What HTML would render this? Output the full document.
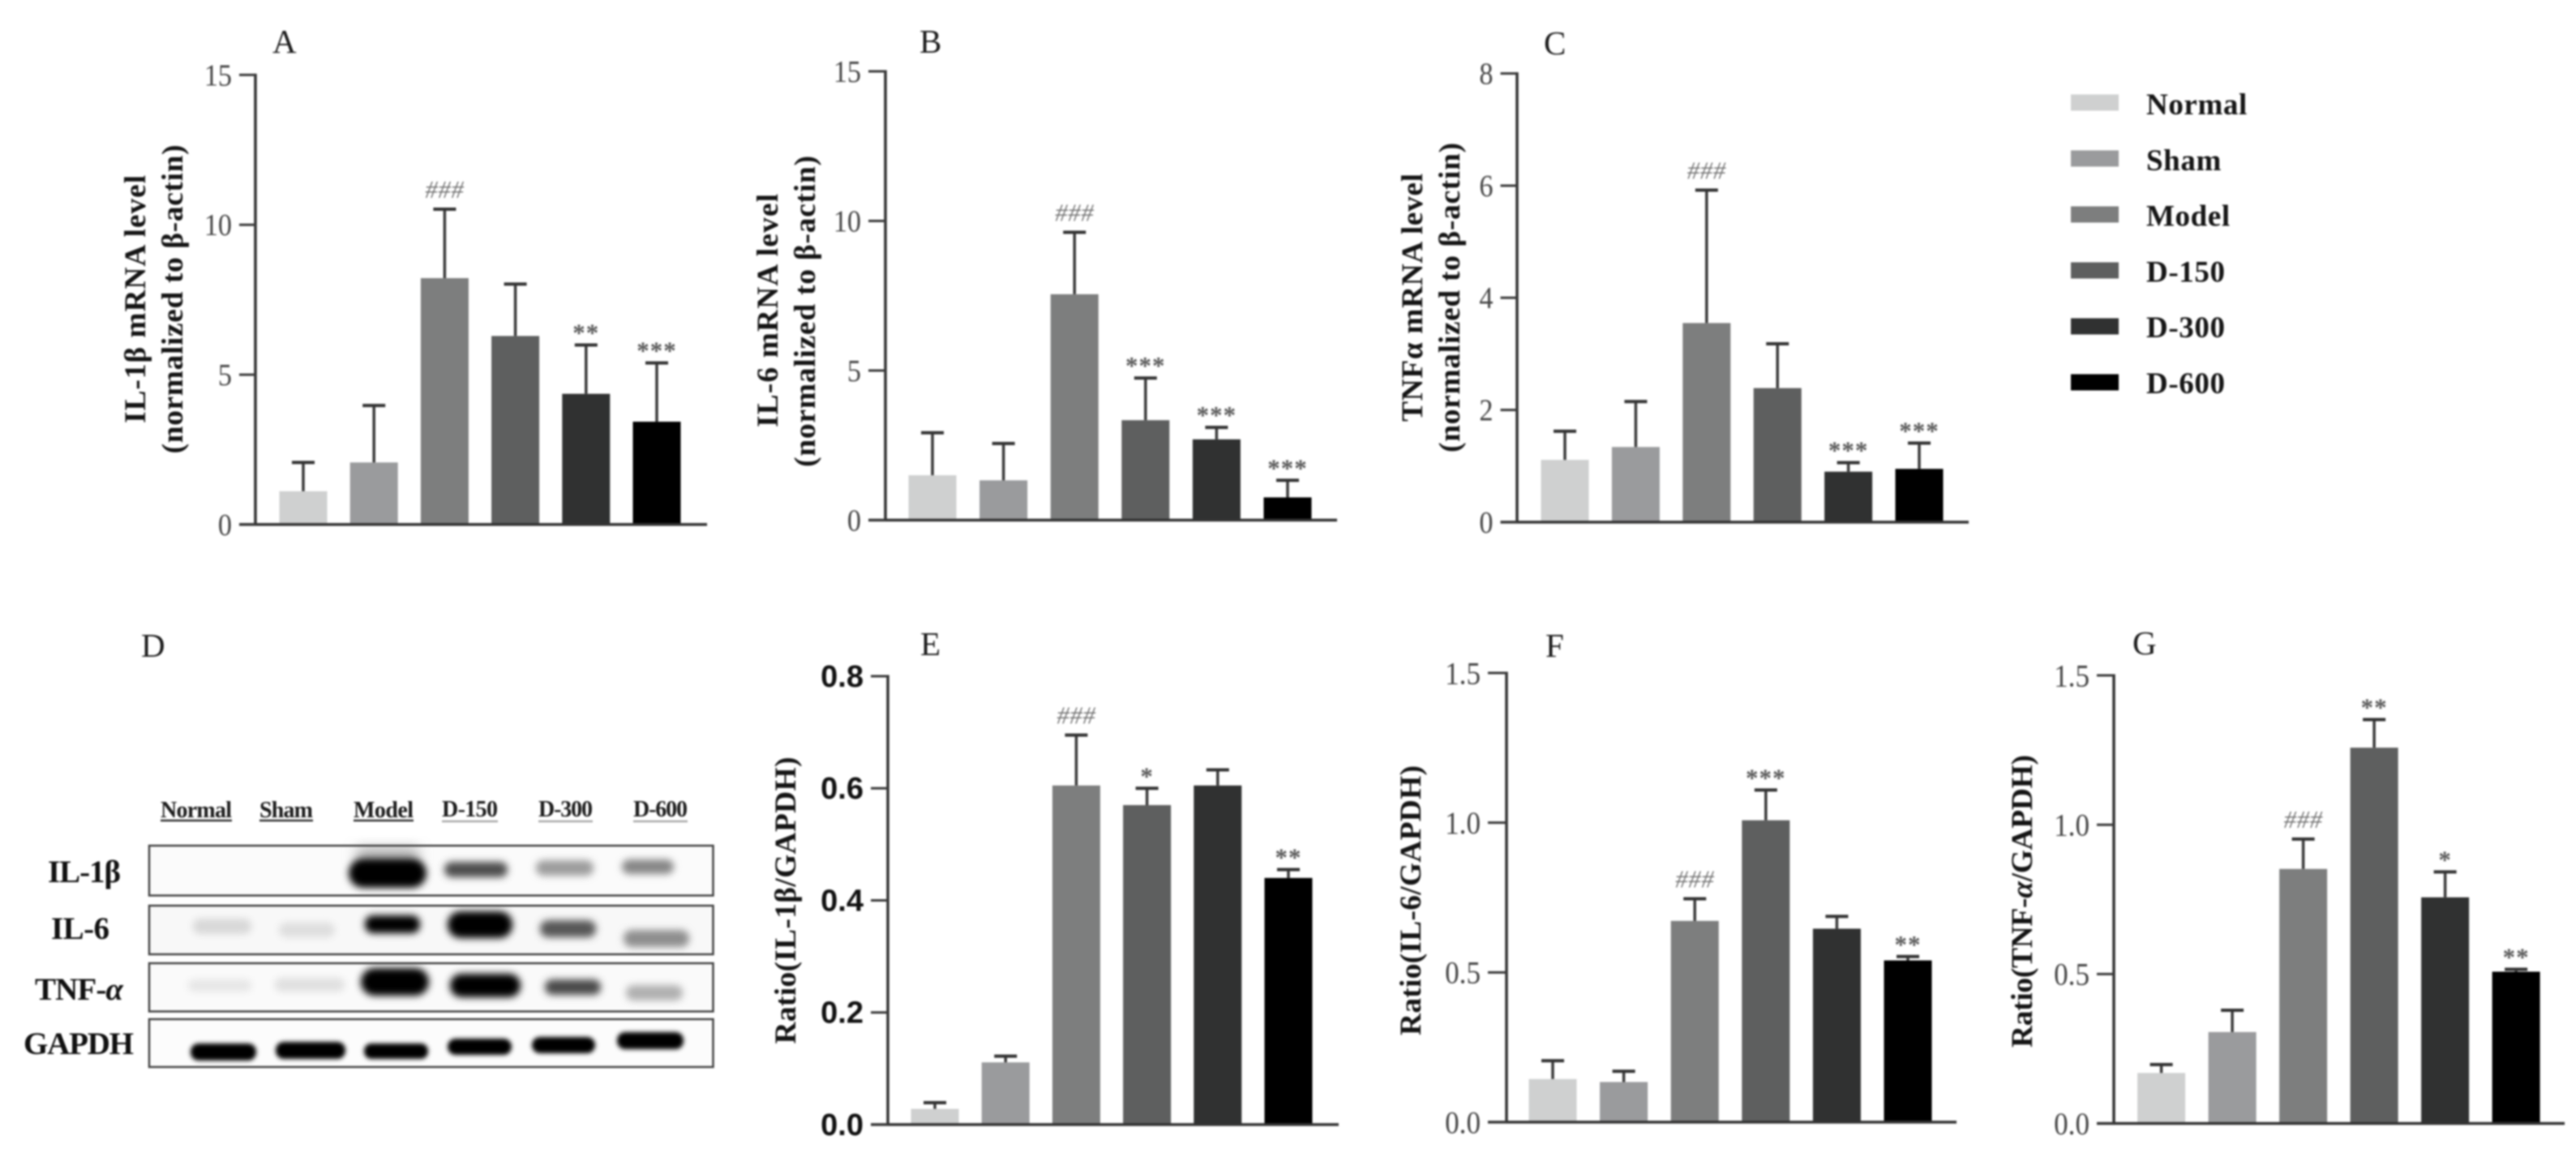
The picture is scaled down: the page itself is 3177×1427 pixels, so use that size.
<!DOCTYPE html>
<html lang="en">
<head>
<meta charset="utf-8">
<title>Cytokine mRNA and protein levels</title>
<style>
  html, body { margin: 0; padding: 0; background: #ffffff; }
  body { width: 3177px; height: 1427px; overflow: hidden; }
  svg { display: block; filter: blur(1.1px); }
  .letter { font-family: "Liberation Serif", serif; font-size: 41px; fill: #1c1c1c; }
  .ytitle { font-family: "Liberation Serif", serif; font-size: 37.5px; font-weight: bold; fill: #151515; text-anchor: middle; }
  .blot-top { font-family: "Liberation Serif", serif; font-size: 28px; font-weight: bold; fill: #1c1c1c; }
  .blot-left { font-family: "Liberation Serif", serif; font-size: 39px; font-weight: bold; fill: #111; }
</style>
</head>
<body>
<svg id="figure" xmlns="http://www.w3.org/2000/svg" width="3177" height="1427" viewBox="0 0 3177 1427">
  <defs>
    <filter id="bandBlur" x="-40%" y="-80%" width="180%" height="260%"><feGaussianBlur stdDeviation="4.5"/></filter>
    <filter id="softBlur" x="-40%" y="-80%" width="180%" height="260%"><feGaussianBlur stdDeviation="8"/></filter>
  </defs>
  <rect x="0" y="0" width="3177" height="1427" fill="#ffffff"/>

  <!-- panel letters -->
  <text class="letter" x="336" y="65">A</text>
  <text class="letter" x="1134" y="65">B</text>
  <text class="letter" x="1904" y="67">C</text>
  <text class="letter" x="174" y="810">D</text>
  <text class="letter" x="1135" y="808">E</text>
  <text class="letter" x="1906" y="810">F</text>
  <text class="letter" x="2630" y="807">G</text>

  <!-- y-axis titles -->
  <text class="ytitle" transform="translate(179 369) rotate(-90)" textLength="306">IL-1β mRNA level</text>
  <text class="ytitle" transform="translate(225 369) rotate(-90)" textLength="381">(normalized to β-actin)</text>
  <text class="ytitle" transform="translate(959 383) rotate(-90)" textLength="288">IL-6 mRNA level</text>
  <text class="ytitle" transform="translate(1005 384) rotate(-90)" textLength="384">(normalized to β-actin)</text>
  <text class="ytitle" transform="translate(1754 367) rotate(-90)" textLength="306">TNFα mRNA level</text>
  <text class="ytitle" transform="translate(1800 367) rotate(-90)" textLength="382">(normalized to β-actin)</text>
  <text class="ytitle" transform="translate(981 1110.5) rotate(-90)" textLength="354">Ratio(IL-1β/GAPDH)</text>
  <text class="ytitle" transform="translate(1752 1110.5) rotate(-90)" textLength="333">Ratio(IL-6/GAPDH)</text>
  <text class="ytitle" transform="translate(2506 1111.5) rotate(-90)" textLength="361">Ratio(TNF-<tspan font-style="italic">α</tspan>/GAPDH)</text>

  <!-- western blot -->
  <g>
    <text class="blot-top" x="198" y="1008" textLength="88">Normal</text>
    <text class="blot-top" x="320" y="1008" textLength="66">Sham</text>
    <text class="blot-top" x="436" y="1008" textLength="74">Model</text>
    <text class="blot-top" x="545" y="1007" textLength="69">D-150</text>
    <text class="blot-top" x="664" y="1007" textLength="67">D-300</text>
    <text class="blot-top" x="781" y="1007" textLength="67">D-600</text>
    <g stroke-width="2.5">
      <line x1="198" y1="1012" x2="286" y2="1012" stroke="#333"/>
      <line x1="320" y1="1012" x2="386" y2="1012" stroke="#333"/>
      <line x1="436" y1="1012" x2="510" y2="1012" stroke="#333"/>
      <line x1="545" y1="1013" x2="614" y2="1013" stroke="#aaa"/>
      <line x1="664" y1="1013" x2="731" y2="1013" stroke="#aaa"/>
      <line x1="781" y1="1013" x2="848" y2="1013" stroke="#aaa"/>
    </g>

    <text class="blot-left" x="59" y="1088" textLength="90">IL-1β</text>
    <text class="blot-left" x="63" y="1158" textLength="72">IL-6</text>
    <text class="blot-left" x="43" y="1233" textLength="109">TNF-<tspan font-style="italic">α</tspan></text>
    <text class="blot-left" x="29" y="1300" textLength="136">GAPDH</text>

    <!-- IL-1b row -->
    <g>
      <rect x="184" y="1043" width="695.5" height="61.5" fill="#fbfbfb"/>
      <rect x="440" y="1046" width="76" height="18" fill="#aaa" filter="url(#softBlur)"/>
      <rect x="430" y="1059" width="96" height="36" rx="18" fill="#000" filter="url(#bandBlur)"/>
      <rect x="548" y="1063" width="78" height="19" rx="9" fill="#4e4e4e" filter="url(#bandBlur)"/>
      <rect x="661" y="1061" width="71" height="19" rx="9" fill="#9c9c9c" filter="url(#bandBlur)"/>
      <rect x="767" y="1060" width="64" height="18" rx="9" fill="#868686" filter="url(#bandBlur)"/>
      <rect x="184" y="1043" width="695.5" height="61.5" fill="none" stroke="#444" stroke-width="2.5"/>
    </g>
    <!-- IL-6 row -->
    <g>
      <rect x="184" y="1117" width="695.5" height="60" fill="#f8f8f8"/>
      <rect x="238" y="1133" width="72" height="19" rx="9" fill="#d8d8d8" filter="url(#bandBlur)"/>
      <rect x="344" y="1138" width="69" height="18" rx="9" fill="#dedede" filter="url(#bandBlur)"/>
      <rect x="450" y="1129" width="68" height="22" rx="10" fill="#000" filter="url(#bandBlur)"/>
      <rect x="552" y="1124" width="80" height="33" rx="16" fill="#000" filter="url(#bandBlur)"/>
      <rect x="666" y="1135" width="69" height="21" rx="10" fill="#565656" filter="url(#bandBlur)"/>
      <rect x="769" y="1147" width="81" height="21" rx="10" fill="#8e8e8e" filter="url(#bandBlur)"/>
      <rect x="184" y="1117" width="695.5" height="60" fill="none" stroke="#444" stroke-width="2.5"/>
    </g>
    <!-- TNF row -->
    <g>
      <rect x="184" y="1188" width="695.5" height="59.5" fill="#fafafa"/>
      <rect x="232" y="1208" width="78" height="15" rx="7" fill="#e6e6e6" filter="url(#bandBlur)"/>
      <rect x="339" y="1206" width="86" height="17" rx="8" fill="#e0e0e0" filter="url(#bandBlur)"/>
      <rect x="445" y="1194" width="84" height="34" rx="17" fill="#000" filter="url(#bandBlur)"/>
      <rect x="555" y="1201" width="87" height="29" rx="14" fill="#000" filter="url(#bandBlur)"/>
      <rect x="672" y="1208" width="69" height="19" rx="9" fill="#484848" filter="url(#bandBlur)"/>
      <rect x="772" y="1215" width="70" height="19" rx="9" fill="#b0b0b0" filter="url(#bandBlur)"/>
      <rect x="184" y="1188" width="695.5" height="59.5" fill="none" stroke="#444" stroke-width="2.5"/>
    </g>
    <!-- GAPDH row -->
    <g>
      <rect x="184" y="1257" width="695.5" height="59" fill="#fcfcfc"/>
      <rect x="235" y="1287" width="81" height="21" rx="10" fill="#000" style="filter:blur(2.6px)"/>
      <rect x="340" y="1285" width="86" height="21" rx="10" fill="#000" style="filter:blur(2.6px)"/>
      <rect x="449" y="1287" width="79" height="19" rx="9" fill="#000" style="filter:blur(2.6px)"/>
      <rect x="552" y="1281" width="79" height="20" rx="10" fill="#000" style="filter:blur(2.6px)"/>
      <rect x="656" y="1279" width="78" height="20" rx="10" fill="#000" style="filter:blur(2.6px)"/>
      <rect x="761" y="1273" width="82" height="21" rx="10" fill="#000" style="filter:blur(2.6px)"/>
      <rect x="184" y="1257" width="695.5" height="59" fill="none" stroke="#444" stroke-width="2.5"/>
    </g>
  </g>

  <g id="charts"></g>
  <g id="legend"></g>
</svg>

<script>
// ---- chart data ----
const categories = ["Normal", "Sham", "Model", "D-150", "D-300", "D-600"];

const aMeans = [1.11, 2.07, 8.22, 6.29, 4.36, 3.43];
const aUpper = [2.07, 3.97, 10.52, 8.02, 5.99, 5.39];
const aMarks = ["", "", "###", "", "**", "***"];
const aTicks = [0, 5, 10, 15];
const aTickLabels = ["0", "5", "10", "15"];

const bMeans = [1.50, 1.33, 7.55, 3.34, 2.70, 0.76];
const bUpper = [2.92, 2.56, 9.62, 4.75, 3.10, 1.33];
const bMarks = ["", "", "###", "***", "***", "***"];
const bTicks = [0, 5, 10, 15];
const bTickLabels = ["0", "5", "10", "15"];

const cMeans = [1.11, 1.34, 3.55, 2.39, 0.90, 0.95];
const cUpper = [1.62, 2.15, 5.92, 3.18, 1.06, 1.41];
const cMarks = ["", "", "###", "", "***", "***"];
const cTicks = [0, 2, 4, 6, 8];
const cTickLabels = ["0", "2", "4", "6", "8"];

const eMeans = [0.028, 0.111, 0.605, 0.570, 0.605, 0.440];
const eUpper = [0.039, 0.122, 0.695, 0.600, 0.633, 0.455];
const eMarks = ["", "", "###", "*", "", "**"];
const eTicks = [0, 0.2, 0.4, 0.6, 0.8];
const eTickLabels = ["0.0", "0.2", "0.4", "0.6", "0.8"];

const fMeans = [0.144, 0.134, 0.672, 1.008, 0.646, 0.540];
const fUpper = [0.205, 0.170, 0.746, 1.109, 0.687, 0.553];
const fMarks = ["", "", "###", "***", "", "**"];
const fTicks = [0, 0.5, 1.0, 1.5];
const fTickLabels = ["0.0", "0.5", "1.0", "1.5"];

const gMeans = [0.169, 0.306, 0.852, 1.258, 0.757, 0.508];
const gUpper = [0.197, 0.379, 0.952, 1.352, 0.842, 0.516];
const gMarks = ["", "", "###", "**", "*", "**"];
const gTicks = [0, 0.5, 1.0, 1.5];
const gTickLabels = ["0.0", "0.5", "1.0", "1.5"];

// ---- presentation ----
const barFills = ["#cfd0d0", "#9a9b9d", "#7d7e7e", "#5e5f5f", "#303131", "#000000"];
const NS = "http://www.w3.org/2000/svg";

function make(tag, parent, attrs) {
  const el = document.createElementNS(NS, tag);
  for (const k in attrs) el.setAttribute(k, attrs[k]);
  parent.appendChild(el);
  return el;
}

function drawPanel(id, layout, means, upper, marks, ticks, tickLabels) {
  const root = document.getElementById("charts");
  const g = make("g", root, {});
  
  

  const maxTick = Math.max.apply(null, ticks);
  const yScale = function (v) { return layout.y0 - (v / maxTick) * (layout.y0 - layout.yTop); };
  const xScale = function (i) { return layout.first + i * layout.step; };
  const barWidth = 59;

  means.forEach(function (v, i) {
    const bar = make("rect", g, {
      x: xScale(i) - barWidth / 2, y: yScale(v),
      width: barWidth, height: layout.y0 - yScale(v), fill: barFills[i]
    });
    
    

    const stem = make("line", g, {
      x1: xScale(i), x2: xScale(i), y1: yScale(v), y2: yScale(upper[i]),
      stroke: "#3a3a3a", "stroke-width": 3.5
    });
    
    

    const cap = make("line", g, {
      x1: xScale(i) - 14, x2: xScale(i) + 14, y1: yScale(upper[i]), y2: yScale(upper[i]),
      stroke: "#333", "stroke-width": 4
    });
    
    

    if (marks[i]) {
      const isHash = marks[i].charAt(0) === "#";
      const t = make("text", g, {
        x: xScale(i), y: yScale(upper[i]) - (isHash ? 14 : 5),
        "text-anchor": "middle",
        "font-family": '"Liberation Serif", serif',
        "font-size": isHash ? 31 : 31,
        "font-style": isHash ? "italic" : "normal",
        "font-weight": isHash ? "normal" : "bold",
        "letter-spacing": isHash ? 0.5 : 1,
        fill: isHash ? "#747474" : "#5a5a5a"
      });
      t.textContent = marks[i];
      
      
    }
  });

  const axisY = make("line", g, {
    x1: layout.x, x2: layout.x, y1: layout.yTop - 1.5, y2: layout.y0 + 1.5,
    stroke: "#333", "stroke-width": 3.5
  });
  
  

  const axisX = make("line", g, {
    x1: layout.tickLeft, x2: layout.right, y1: layout.y0, y2: layout.y0,
    stroke: "#333", "stroke-width": 3.5
  });
  
  

  ticks.forEach(function (v, i) {
    const tick = make("line", g, {
      x1: layout.tickLeft, x2: layout.x, y1: yScale(v), y2: yScale(v),
      stroke: "#3a3a3a", "stroke-width": 3
    });
    
    

    // serif tick numerals are condensed horizontally in the reference
    const xStretch = layout.tickBold ? 1 : 0.9;
    const label = make("text", g, {
      transform: "translate(" + (layout.tickLeft - 9) + " " + (yScale(v) + layout.tickSize * 0.34) + ") scale(" + xStretch + " 1)",
      "text-anchor": "end",
      "font-family": layout.tickBold ? '"Liberation Sans", sans-serif' : '"Liberation Serif", serif',
      "font-weight": layout.tickBold ? "bold" : "normal",
      "font-size": layout.tickSize,
      fill: layout.tickBold ? "#111" : "#444"
    });
    label.textContent = tickLabels[i];
    
    
  });
}

drawPanel("a", { x: 315, tickLeft: 295, right: 872, yTop: 92.4, y0: 646.9, first: 374, step: 87.2, tickSize: 38 },
  aMeans, aUpper, aMarks, aTicks, aTickLabels);
drawPanel("b", { x: 1092, tickLeft: 1071, right: 1649, yTop: 88, y0: 641.5, first: 1150, step: 87.6, tickSize: 38 },
  bMeans, bUpper, bMarks, bTicks, bTickLabels);
drawPanel("c", { x: 1871, tickLeft: 1850.5, right: 2428, yTop: 90.6, y0: 644, first: 1930, step: 87.4, tickSize: 38 },
  cMeans, cUpper, cMarks, cTicks, cTickLabels);
drawPanel("e", { x: 1095, tickLeft: 1074, right: 1651, yTop: 834, y0: 1387, first: 1153, step: 87.2, tickSize: 38, tickBold: true },
  eMeans, eUpper, eMarks, eTicks, eTickLabels);
drawPanel("f", { x: 1858, tickLeft: 1835, right: 2413, yTop: 830, y0: 1384, first: 1915, step: 87.6, tickSize: 39 },
  fMeans, fUpper, fMarks, fTicks, fTickLabels);
drawPanel("g", { x: 2607, tickLeft: 2586, right: 3163, yTop: 833, y0: 1385.6, first: 2665.6, step: 87.5, tickSize: 39 },
  gMeans, gUpper, gMarks, gTicks, gTickLabels);

// legend
(function () {
  const legend = document.getElementById("legend");
  categories.forEach(function (name, i) {
    const swatch = make("rect", legend, {
      x: 2554, y: 116.5 + i * 69, width: 59, height: 20, fill: barFills[i]
    });
    
    

    const label = make("text", legend, {
      x: 2647, y: 141 + i * 68.8,
      "font-family": '"Liberation Serif", serif',
      "font-weight": "bold", "font-size": 37, "letter-spacing": 0.6, fill: "#161616"
    });
    label.textContent = name;
    
    
  });
})();
</script>
</body>
</html>
